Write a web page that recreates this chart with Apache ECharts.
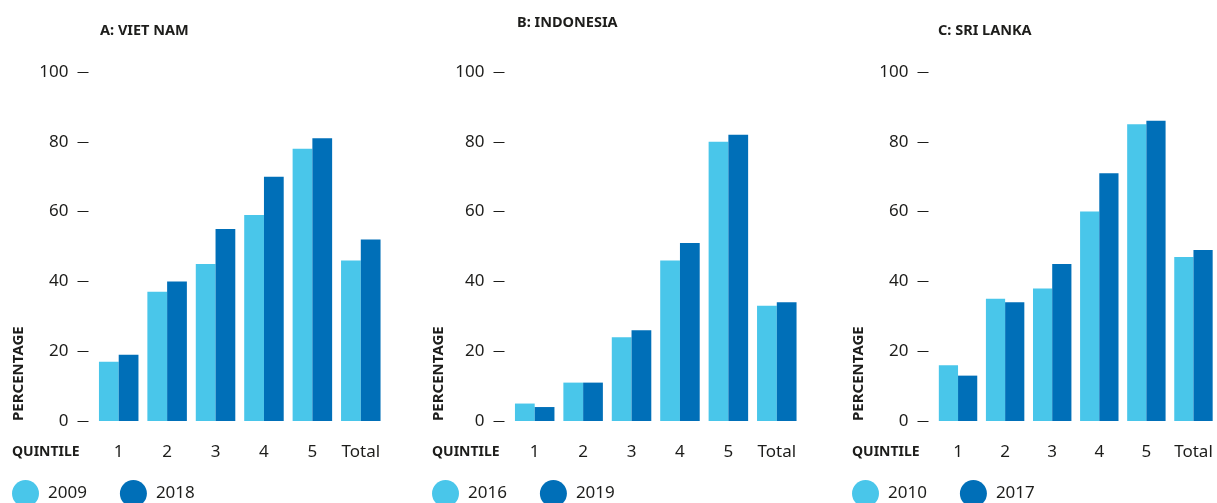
<!DOCTYPE html>
<html><head><meta charset="utf-8">
<script src="https://cdn.jsdelivr.net/npm/echarts@6/dist/echarts.min.js"></script>
<style>html,body{margin:0;padding:0;background:#fff}#c{width:1217px;height:503px}</style>
</head><body><div id="c"></div>
<script>
var categories = ['1','2','3','4','5','Total'];
var yTicks = [0,20,40,60,80,100];
var panelTitles = ['A: VIET NAM','B: INDONESIA','C: SRI LANKA'];
var vnYears = ['2009','2018'];
var vn2009 = [17,37,45,59,78,46];
var vn2018 = [19,40,55,70,81,52];
var idYears = ['2016','2019'];
var id2016 = [5,11,24,46,80,33];
var id2019 = [4,11,26,51,82,34];
var lkYears = ['2010','2017'];
var lk2010 = [16,35,38,60,85,47];
var lk2017 = [13,34,45,71,86,49];

var LIGHT = '#49C6EA', DARK = '#006FB8', TXT = '#1d1d1b';
var FONT = '"Noto Sans", "Open Sans", sans-serif';
var panels = [
  {left:94.5, years:vnYears, a:vn2009, b:vn2018, titleX:100, titleY:23, offX:0},
  {left:510.5, years:idYears, a:id2016, b:id2019, titleX:517, titleY:15, offX:420},
  {left:934.5, years:lkYears, a:lk2010, b:lk2017, titleX:938, titleY:23, offX:840}
];
var grids=[], xAxes=[], yAxes=[], series=[], legends=[], graphics=[];
panels.forEach(function(p,i){
  grids.push({left:p.left, top:72, width:290.5, height:349, containLabel:false});
  xAxes.push({type:'category', gridIndex:i, data:categories,
    axisLine:{show:false}, axisTick:{show:false},
    axisLabel:{color:TXT, fontSize:17, fontFamily:FONT, margin:23, interval:0}});
  yAxes.push({type:'value', gridIndex:i, min:yTicks[0], max:yTicks[yTicks.length-1], interval:20,
    offset:6, splitLine:{show:false}, axisLine:{show:false},
    axisTick:{show:true, length:11, lineStyle:{color:TXT, width:1}},
    axisLabel:{color:TXT, fontSize:17, fontFamily:FONT, margin:20}});
  series.push({type:'bar', name:p.years[0], xAxisIndex:i, yAxisIndex:i, data:p.a,
    itemStyle:{color:LIGHT}, barGap:'0%', barCategoryGap:'18.4%'});
  series.push({type:'bar', name:p.years[1], xAxisIndex:i, yAxisIndex:i, data:p.b,
    itemStyle:{color:DARK}, barGap:'0%', barCategoryGap:'18.4%'});
  legends.push({data:p.years, left:p.offX+12, top:480, padding:0, icon:'circle', itemWidth:27, itemHeight:27,
    itemGap:33, textStyle:{color:TXT, fontSize:17, fontFamily:FONT, padding:[0,0,0,4]}});
  graphics.push({type:'text', left:p.titleX, top:p.titleY,
    style:{text:panelTitles[i], fill:TXT, font:'bold 14.5px '+FONT}});
  graphics.push({type:'text', left:p.offX+12, top:445,
    style:{text:'QUINTILE', fill:TXT, font:'bold 14px '+FONT}});
  graphics.push({type:'text', x:p.offX+18.5, y:421, rotation:Math.PI/2,
    style:{text:'PERCENTAGE', fill:TXT, font:'bold 15px '+FONT, textAlign:'left', textVerticalAlign:'middle'}});
});
var chart = echarts.init(document.getElementById('c'), null, {renderer:'canvas'});
chart.setOption({
  animation:false,
  grid:grids, xAxis:xAxes, yAxis:yAxes, series:series, legend:legends, graphic:graphics
});
</script></body></html>
